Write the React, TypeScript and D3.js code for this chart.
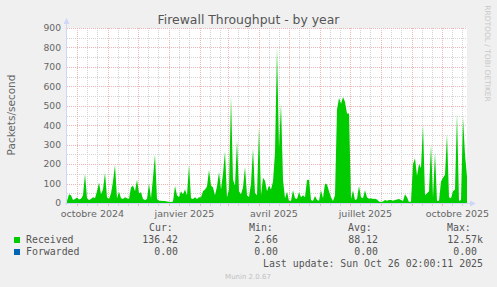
import React from "react";
import * as d3 from "d3";

const W = 497;
const H = 287;

const TITLE = "Firewall Throughput - by year";
const Y_LABEL = "Packets/second";
const Y_TICKS = [0, 100, 200, 300, 400, 500, 600, 700, 800, 900];
const MONTH_LABELS: [number, number, string][] = [
  [2024, 9, "octobre 2024"],
  [2025, 0, "janvier 2025"],
  [2025, 3, "avril 2025"],
  [2025, 6, "juillet 2025"],
  [2025, 9, "octobre 2025"],
];

const END_MS = Date.UTC(2025, 9, 26, 2, 0, 11);
const DAY = 864e5;
const SPAN_DAYS = 400;
const STEP_DAYS = 2;

// Received packets/second, one value every 2 days
const received = [
  10, 45, 40, 15, 20, 28, 18, 22, 40, 150,
  25, 15, 20, 30, 25, 60, 105, 45, 70, 155,
  30, 20, 50, 110, 195, 25, 58, 25, 20, 30,
  25, 20, 80, 90, 60, 120, 50, 55, 20, 15,
  20, 100, 25, 130, 250, 20, 12, 12, 10, 10,
  8, 6, 5, 8, 88, 40, 30, 60, 45, 70,
  40, 195, 25, 20, 30, 20, 30, 30, 60, 70,
  85, 170, 90, 80, 40, 85, 160, 70, 150, 265,
  30, 70, 550, 120, 90, 320, 60, 45, 80, 185,
  40, 30, 100, 280, 50, 40, 390, 40, 130, 115,
  60, 90, 70, 110, 260, 800, 280, 510, 120, 25,
  58, 10, 12, 65, 25, 20, 55, 30, 40, 30,
  118, 120, 15, 10, 36, 15, 12, 65, 25, 100,
  95, 60, 30, 10, 40, 480, 540, 510, 545, 520,
  460, 460, 20, 65, 15, 20, 88, 30, 25, 65,
  30, 22, 25, 20, 22, 18, 8, 5, 8, 15,
  12, 15, 15, 12, 15, 18, 20, 15, 10, 45,
  30, 5, 8, 200, 230, 140, 200, 180, 400, 40,
  50, 60, 300, 30, 260, 10, 12, 110, 130, 145,
  355, 30, 25, 60, 70, 460, 10, 15, 440, 250,
  136,
];
const forwarded = received.map(() => 0);

const LEGEND_ROWS = [
  { name: "Received", color: "#00CC00", cur: "136.42", min: "2.66", avg: "88.12", max: "12.57k" },
  { name: "Forwarded", color: "#0066B3", cur: "0.00", min: "0.00", avg: "0.00", max: "0.00" },
];
const LAST_UPDATE = "Last update: Sun Oct 26 02:00:11 2025";
const VERSION = "Munin 2.0.67";
const WATERMARK = "RRDTOOL / TOBI OETIKER";

const PLOT = { left: 67, right: 467, top: 28, bottom: 203 };

export default function App() {
  const start = new Date(END_MS - SPAN_DAYS * DAY);
  const end = new Date(END_MS);
  const x = d3.scaleUtc().domain([start, end]).range([PLOT.left, PLOT.right]);
  const y = d3.scaleLinear().domain([0, 900]).range([PLOT.bottom, PLOT.top]);

  const dateAt = (i: number) => new Date(start.getTime() + i * STEP_DAYS * DAY);
  const area = d3
    .area<number>()
    .x((_, i) => x(dateAt(i)))
    .y0(y(0))
    .y1((d) => y(d))
    .curve(d3.curveLinear);
  const line = d3
    .line<number>()
    .x((_, i) => x(dateAt(i)))
    .y((d) => y(d));

  const monthStarts = d3.utcMonth.range(d3.utcMonth.ceil(start), end);
  const minorDays: Date[] = [];
  d3.utcMonth.range(d3.utcMonth.floor(start), end).forEach((m) => {
    [10, 20].forEach((off) => {
      const d = new Date(m.getTime() + off * DAY);
      if (d > start && d < end) minorDays.push(d);
    });
  });
  const px = (v: number) => Math.round(v) + 0.5;

  const minorY = d3.range(50, 900, 100);
  const font = "DejaVu Sans, sans-serif";
  const mono = "DejaVu Sans Mono, monospace";
  const fc = "#666666";
  const axisC = "#CFD6F8";
  const majorC = "#efb4b4";
  const minorC = "#d4d4d4";

  return (
    <svg
      width={W}
      height={H}
      style={{ position: "absolute", left: 0, top: 0, display: "block" }}
      xmlns="http://www.w3.org/2000/svg"
    >
      <rect x={0} y={0} width={W} height={H} fill="#F0F0F0" />
      <rect
        x={PLOT.left}
        y={PLOT.top}
        width={PLOT.right - PLOT.left}
        height={PLOT.bottom - PLOT.top}
        fill="#FFFFFF"
      />
      {/* minor grid */}
      <g stroke={minorC} strokeWidth={1} strokeDasharray="1 1" shapeRendering="crispEdges">
        {minorY.map((v) => (
          <line key={"hy" + v} x1={PLOT.left} x2={PLOT.right} y1={px(y(v))} y2={px(y(v))} />
        ))}
        {minorDays.map((d, i) => (
          <line key={"vx" + i} x1={px(x(d))} x2={px(x(d))} y1={PLOT.top} y2={PLOT.bottom} />
        ))}
      </g>
      {/* major grid */}
      <g stroke={majorC} strokeWidth={1} strokeDasharray="1 1" shapeRendering="crispEdges">
        {Y_TICKS.map((v) => (
          <line key={"my" + v} x1={PLOT.left} x2={PLOT.right} y1={px(y(v))} y2={px(y(v))} />
        ))}
        {monthStarts.map((d, i) => (
          <line key={"mx" + i} x1={px(x(d))} x2={px(x(d))} y1={PLOT.top} y2={PLOT.bottom} />
        ))}
      </g>
      {/* data */}
      <path d={area(received) || ""} fill="#00CC00" />
      <path d={line(forwarded) || ""} fill="none" stroke="#0066B3" strokeWidth={0} />
      {/* axes */}
      <g shapeRendering="crispEdges">
        <line x1={PLOT.left - 0.5} x2={PLOT.left - 0.5} y1={PLOT.top - 4} y2={PLOT.bottom + 2} stroke={axisC} />
        <line x1={PLOT.left - 2} x2={PLOT.right + 3} y1={PLOT.bottom + 0.5} y2={PLOT.bottom + 0.5} stroke={axisC} />
        {monthStarts.map((d, i) => (
          <line key={"tk" + i} x1={px(x(d))} x2={px(x(d))} y1={PLOT.bottom + 1} y2={PLOT.bottom + 3} stroke={majorC} />
        ))}
        {minorDays.map((d, i) => (
          <line key={"tm" + i} x1={px(x(d))} x2={px(x(d))} y1={PLOT.bottom + 1} y2={PLOT.bottom + 3} stroke={minorC} />
        ))}
      </g>
      <path
        d={`M${PLOT.left - 3.5},${PLOT.top - 4} L${PLOT.left + 2.5},${PLOT.top - 4} L${PLOT.left - 0.5},${PLOT.top - 10} Z`}
        fill={axisC}
      />
      <path
        d={`M${PLOT.right + 3},${PLOT.bottom - 2.5} L${PLOT.right + 3},${PLOT.bottom + 3.5} L${PLOT.right + 9},${PLOT.bottom + 0.5} Z`}
        fill={axisC}
      />
      {/* y tick labels */}
      <g fontFamily={font} fontSize={9.2} fill={fc} textAnchor="end">
        {Y_TICKS.map((v) => (
          <text key={"yl" + v} x={61} y={y(v)} dy="0.36em">
            {v}
          </text>
        ))}
      </g>
      {/* x labels */}
      <g fontFamily={font} fontSize={9.5} fill={fc} textAnchor="middle">
        {MONTH_LABELS.map(([yr, mo, label]) => {
          const a = new Date(Date.UTC(yr, mo, 1));
          const b = new Date(Date.UTC(yr, mo + 1, 1));
          return (
            <text key={label} x={(x(a) + x(b)) / 2} y={217}>
              {label}
            </text>
          );
        })}
      </g>
      {/* title */}
      <text x={248.5} y={24} fontFamily={font} fontSize={12.4} fill="#555555" textAnchor="middle">
        {TITLE}
      </text>
      {/* y axis label */}
      <text
        transform={`translate(14.5,115) rotate(-90)`}
        fontFamily={font}
        fontSize={10.5}
        fill={fc}
        textAnchor="middle"
      >
        {Y_LABEL}
      </text>
      {/* watermark */}
      <text
        transform={`translate(485,53.5) rotate(90)`}
        fontFamily={font}
        fontSize={7.5}
        fill="#c8c8c8"
        textAnchor="middle"
      >
        {WATERMARK}
      </text>
      {/* legend */}
      <g fontFamily={mono} fontSize={9.9} fill="#555555">
        <text x={149} y={231}>Cur:</text>
        <text x={249} y={231}>Min:</text>
        <text x={348} y={231}>Avg:</text>
        <text x={447} y={231}>Max:</text>
        {LEGEND_ROWS.map((r, i) => {
          const by = 243 + i * 12;
          const maxEnd = r.max.endsWith("k") ? 483 : 477;
          return (
            <g key={r.name}>
              <rect x={14} y={by - 6} width={6} height={6} fill={r.color} />
              <text x={26} y={by}>{r.name}</text>
              <text x={178} y={by} textAnchor="end">{r.cur}</text>
              <text x={278} y={by} textAnchor="end">{r.min}</text>
              <text x={378} y={by} textAnchor="end">{r.avg}</text>
              <text x={maxEnd} y={by} textAnchor="end">{r.max}</text>
            </g>
          );
        })}
        <text x={483} y={267} textAnchor="end">{LAST_UPDATE}</text>
      </g>
      <text x={248} y={279} fontFamily={font} fontSize={7} fill="#c0c0c0" textAnchor="middle">
        {VERSION}
      </text>
    </svg>
  );
}
